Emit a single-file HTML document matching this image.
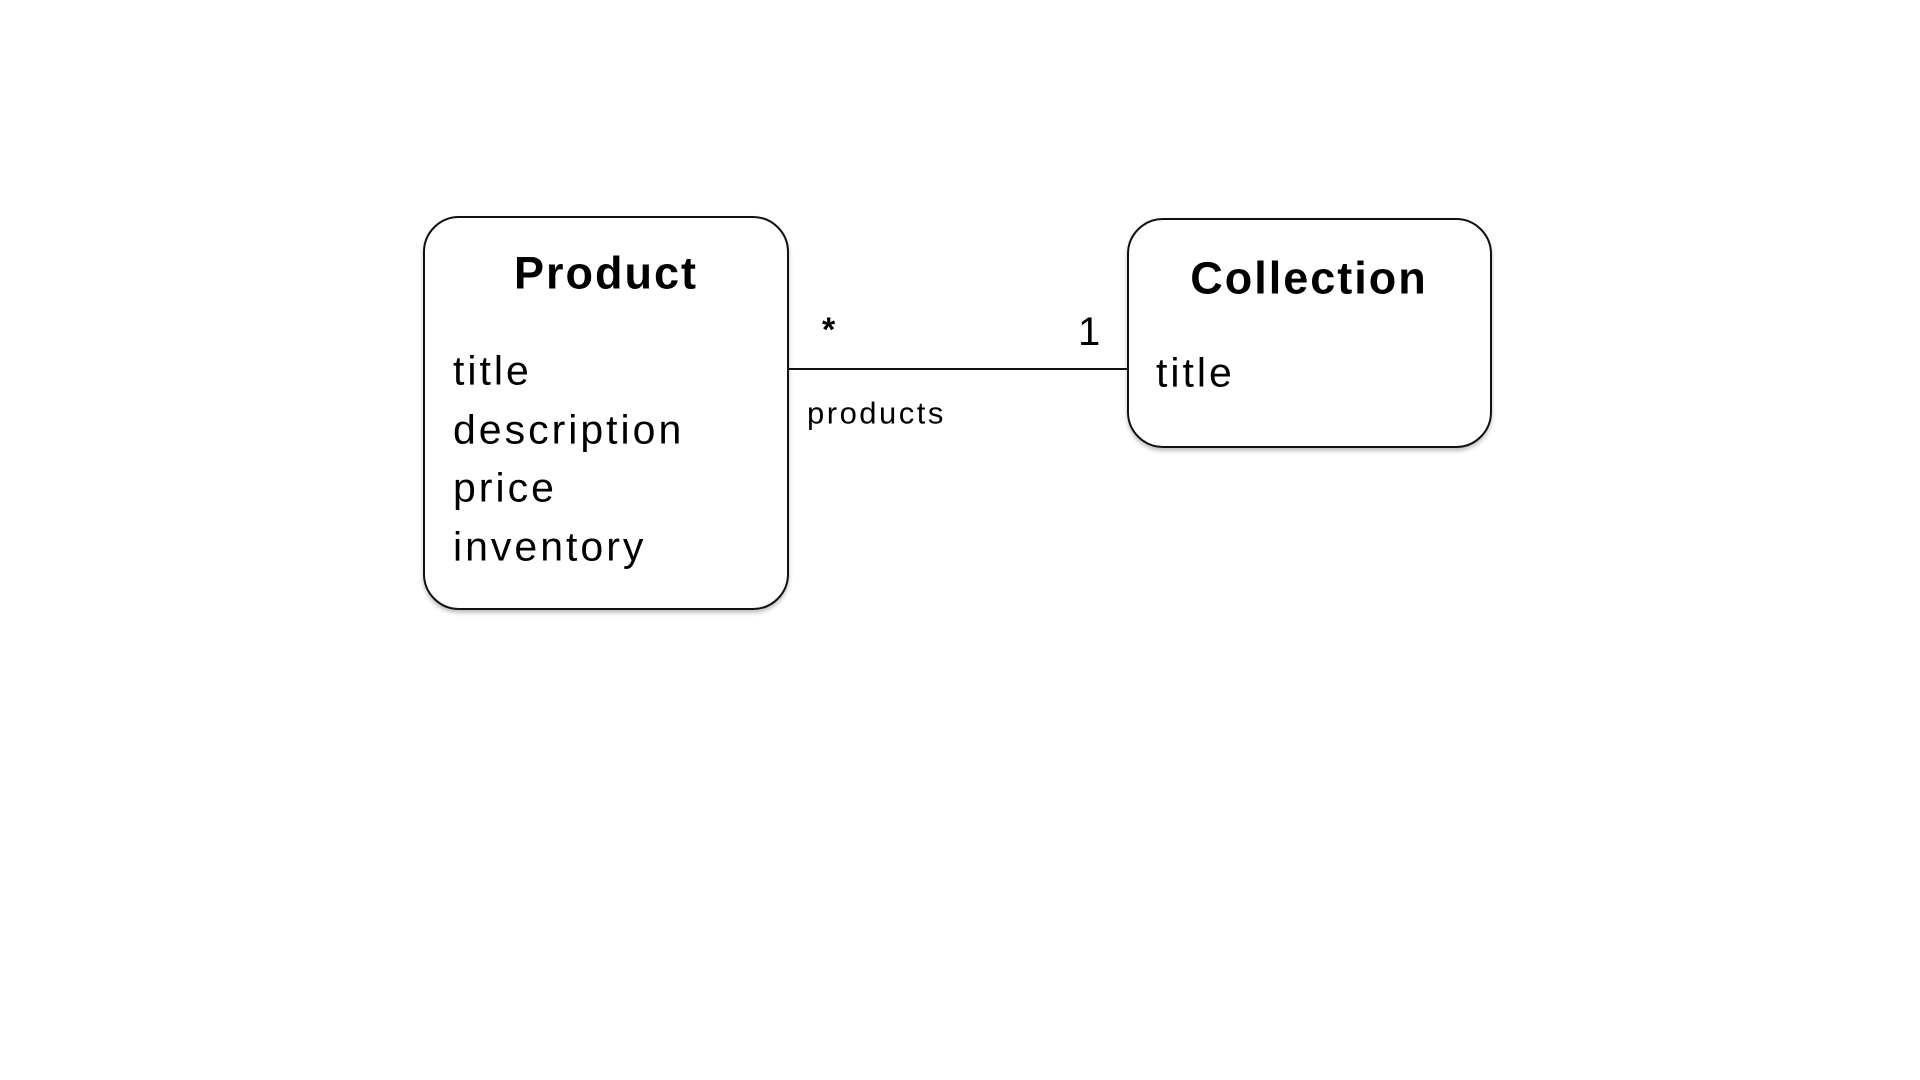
<!DOCTYPE html>
<html><head><meta charset="utf-8"><style>
body{margin:0;width:1920px;height:1080px;background:#fff;position:relative;overflow:hidden;font-family:"Liberation Sans",sans-serif;color:#000}
.box{position:absolute;border:2px solid #111;border-radius:36px;box-sizing:border-box;box-shadow:0 3px 4px rgba(0,0,0,0.25)}
.t{position:absolute;white-space:nowrap;line-height:1;transform:translateY(-50%)}
.h{font-weight:bold;font-size:45px;transform:translate(-50%,-50%);letter-spacing:2px}
.a{font-size:41px;letter-spacing:3px}
</style></head><body>
<div class="box" style="left:423px;top:216px;width:366px;height:394px"></div>
<div class="box" style="left:1127px;top:218px;width:365px;height:230px"></div>
<div style="position:absolute;left:789px;top:368px;width:338px;height:2px;background:#111"></div>
<div class="t h" style="left:606px;top:273px">Product</div>
<div class="t a" style="left:453px;top:371px">title</div>
<div class="t a" style="left:453px;top:430px">description</div>
<div class="t a" style="left:453px;top:488px">price</div>
<div class="t a" style="left:453px;top:547px">inventory</div>
<div class="t h" style="left:1309px;top:278px">Collection</div>
<div class="t a" style="left:1156px;top:373px">title</div>
<div class="t" style="left:822px;top:330px;font-size:34px;font-weight:bold">*</div>
<div class="t" style="left:1078px;top:332px;font-size:40px">1</div>
<div class="t" style="left:807px;top:413px;font-size:31px;letter-spacing:2.5px">products</div>
</body></html>
